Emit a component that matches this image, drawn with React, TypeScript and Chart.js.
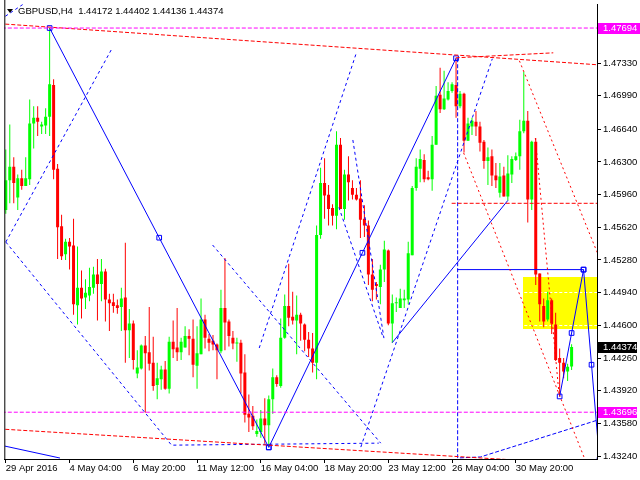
import React, { useEffect, useRef } from 'react';
import { Chart, registerables } from 'chart.js';

Chart.register(...registerables);

// ---------- data ----------
const opens = [
  1.4580, 1.4611, 1.4625, 1.4593, 1.4613, 1.4605, 1.4612, 1.4670, 1.4676, 1.4667,
  1.4668, 1.4677, 1.4710, 1.4623, 1.4563, 1.4534, 1.4547, 1.4543, 1.4481, 1.4499,
  1.4489, 1.4491, 1.4499, 1.4513, 1.4503, 1.4516, 1.4487, 1.4484, 1.4481, 1.4479,
  1.4489, 1.4455, 1.4462, 1.4410, 1.4415, 1.4439, 1.4432, 1.4421, 1.4398, 1.4404,
  1.4414, 1.4394, 1.4443, 1.4437, 1.4432, 1.4437, 1.4449, 1.4446, 1.4418, 1.4430,
  1.4466, 1.4446, 1.4444, 1.4440, 1.4433, 1.4478, 1.4464, 1.4447, 1.4441, 1.4442,
  1.4411, 1.4368, 1.4366, 1.4347, 1.4349, 1.4363, 1.4356, 1.4383, 1.4406, 1.4397,
  1.4447, 1.4480, 1.4469, 1.4465, 1.4471, 1.4461, 1.4445, 1.4436, 1.4421, 1.4554,
  1.4608, 1.4596, 1.4582, 1.4574, 1.4648, 1.4581, 1.4617, 1.4603, 1.4596, 1.4592,
  1.4571, 1.4564, 1.4513, 1.4503, 1.4500, 1.4518, 1.4538, 1.4462, 1.4483, 1.4478,
  1.4486, 1.4487, 1.4533, 1.4603, 1.4623, 1.4632, 1.4614, 1.4612, 1.4648, 1.4700,
  1.4685, 1.4695, 1.4704, 1.4710, 1.4688, 1.4701, 1.4652, 1.4667, 1.4672, 1.4667,
  1.4651, 1.4631, 1.4636, 1.4616, 1.4598, 1.4616, 1.4594, 1.4617, 1.4632, 1.4636,
  1.4662, 1.4673, 1.4591, 1.4651, 1.4514, 1.4480, 1.4466, 1.4486, 1.4461, 1.4426,
  1.4421, 1.4412, 1.44172,
];
const highs = [
  1.4643, 1.4669, 1.4635, 1.4617, 1.4622, 1.4635, 1.4695, 1.4688, 1.4688, 1.4672,
  1.4686, 1.47694, 1.4716, 1.4628, 1.4575, 1.4550, 1.4551, 1.4571, 1.4542, 1.4517,
  1.4508, 1.4520, 1.4521, 1.4529, 1.4529, 1.4519, 1.4493, 1.4493, 1.4487, 1.4499,
  1.4546, 1.4477, 1.4465, 1.4434, 1.4440, 1.4449, 1.4479, 1.4448, 1.4421, 1.4418,
  1.4423, 1.4448, 1.4465, 1.4478, 1.4447, 1.4459, 1.4456, 1.4466, 1.4459, 1.4488,
  1.4471, 1.4451, 1.4450, 1.4441, 1.4497, 1.4530, 1.4466, 1.4454, 1.4447, 1.4445,
  1.4430, 1.4388, 1.4376, 1.4362, 1.4372, 1.4384, 1.4387, 1.4415, 1.4408, 1.4467,
  1.4492, 1.4524, 1.4495, 1.4491, 1.4473, 1.4462, 1.4453, 1.4452, 1.4564, 1.4624,
  1.4634, 1.4606, 1.4586, 1.4662, 1.4655, 1.4622, 1.4636, 1.4611, 1.4603, 1.4611,
  1.4585, 1.4569, 1.4529, 1.4505, 1.4523, 1.4548, 1.4539, 1.4492, 1.4489, 1.4498,
  1.4497, 1.4547, 1.4605, 1.4634, 1.4643, 1.4638, 1.4621, 1.4657, 1.4709, 1.4728,
  1.4725, 1.4713, 1.4713, 1.4738, 1.4704, 1.4702, 1.4676, 1.4676, 1.4683, 1.4672,
  1.4653, 1.4645, 1.4643, 1.4629, 1.4629, 1.4625, 1.4637, 1.4636, 1.4640, 1.4674,
  1.4724, 1.4683, 1.4652, 1.4655, 1.4514, 1.4488, 1.4495, 1.4488, 1.4473, 1.4436,
  1.4426, 1.4420, 1.44402,
];
const lows = [
  1.4576, 1.4587, 1.4587, 1.4580, 1.4601, 1.4605, 1.4606, 1.4644, 1.4657, 1.4659,
  1.4659, 1.4657, 1.4612, 1.4529, 1.4528, 1.4528, 1.4518, 1.4471, 1.4461, 1.4467,
  1.4477, 1.4485, 1.4493, 1.4465, 1.4485, 1.4464, 1.4454, 1.4473, 1.4472, 1.4454,
  1.4421, 1.4426, 1.4414, 1.4405, 1.4414, 1.4369, 1.4413, 1.4392, 1.4383, 1.4393,
  1.4393, 1.4389, 1.4426, 1.4423, 1.4424, 1.4437, 1.4429, 1.4406, 1.4394, 1.4430,
  1.4436, 1.4433, 1.4434, 1.4404, 1.4431, 1.4434, 1.4438, 1.4435, 1.4422, 1.4389,
  1.4359, 1.4349, 1.4351, 1.4344, 1.4343, 1.4337, 1.4333, 1.4368, 1.4396, 1.4395,
  1.4446, 1.4459, 1.4461, 1.4430, 1.4444, 1.4433, 1.4427, 1.4411, 1.4404, 1.4550,
  1.4571, 1.4564, 1.4564, 1.4560, 1.4581, 1.4570, 1.4590, 1.4591, 1.4590, 1.4551,
  1.4552, 1.4502, 1.4485, 1.4487, 1.4482, 1.4505, 1.4460, 1.4442, 1.4474, 1.4478,
  1.4478, 1.4482, 1.4533, 1.4600, 1.4609, 1.4609, 1.4611, 1.4600, 1.4648, 1.4681,
  1.4684, 1.4694, 1.4702, 1.4676, 1.4686, 1.4640, 1.4652, 1.4658, 1.4657, 1.4641,
  1.4623, 1.4606, 1.4605, 1.4603, 1.4593, 1.4594, 1.4590, 1.4608, 1.4631, 1.4622,
  1.4660, 1.4567, 1.4580, 1.4502, 1.4464, 1.4458, 1.4464, 1.4451, 1.4423, 1.4386,
  1.4405, 1.4402, 1.44136,
];
const closes = [
  1.4611, 1.4625, 1.4608, 1.4613, 1.4605, 1.4613, 1.4670, 1.4676, 1.4672, 1.4669,
  1.4677, 1.4711, 1.4622, 1.4562, 1.4532, 1.4547, 1.4542, 1.4482, 1.4499, 1.4488,
  1.4494, 1.4500, 1.4513, 1.4503, 1.4516, 1.4487, 1.4483, 1.4480, 1.4478, 1.4488,
  1.4455, 1.4462, 1.4424, 1.4416, 1.4439, 1.4431, 1.4420, 1.4397, 1.4405, 1.4414,
  1.4394, 1.4443, 1.4435, 1.4432, 1.4443, 1.4449, 1.4446, 1.4419, 1.4431, 1.4466,
  1.4447, 1.4442, 1.4440, 1.4434, 1.4478, 1.4463, 1.4449, 1.4441, 1.4442, 1.4410,
  1.4367, 1.4364, 1.4355, 1.4350, 1.4363, 1.4356, 1.4383, 1.4406, 1.4399, 1.4447,
  1.4480, 1.4468, 1.4465, 1.4471, 1.4462, 1.4445, 1.4436, 1.4421, 1.4554, 1.4608,
  1.4595, 1.4581, 1.4574, 1.4648, 1.4581, 1.4617, 1.4609, 1.4596, 1.4591, 1.4570,
  1.4564, 1.4513, 1.4497, 1.4501, 1.4518, 1.4539, 1.4462, 1.4483, 1.4484, 1.4488,
  1.4488, 1.4535, 1.4603, 1.4625, 1.4633, 1.4612, 1.4612, 1.4648, 1.4699, 1.4685,
  1.4696, 1.4704, 1.4711, 1.4688, 1.4701, 1.4652, 1.4670, 1.4673, 1.4667, 1.4650,
  1.4631, 1.4635, 1.4616, 1.4611, 1.4615, 1.4594, 1.4618, 1.4633, 1.4636, 1.4662,
  1.4673, 1.4591, 1.4651, 1.4513, 1.4482, 1.4464, 1.4486, 1.4462, 1.4424, 1.4421,
  1.4412, 1.4417, 1.44374,
];

const xTickBars = [0, 16, 32, 48, 64, 80, 96, 112, 128];
const xTickLabels = [
  '29 Apr 2016', '4 May 04:00', '6 May 20:00', '11 May 12:00', '16 May 04:00',
  '18 May 20:00', '23 May 12:00', '26 May 04:00', '30 May 20:00',
];
const yTickValues = [
  1.4324, 1.4358, 1.4392, 1.4426, 1.446, 1.4494, 1.4528, 1.4562, 1.4596, 1.463,
  1.4664, 1.4699, 1.4733, 1.4767,
];
const titleText = 'GBPUSD,H4  1.44172 1.44402 1.44136 1.44374';

type Pt = [number, number];
// solid blue wave lines (bar index, price)
const waveDown: Pt[] = [[11, 1.47694], [38.5, 1.45512], [66, 1.4333]];
const waveUp: Pt[] = [[66, 1.4333], [89.5, 1.45355], [113, 1.4738]];
const forecastUp: Pt[] = [[139, 1.4386], [142, 1.4452], [145, 1.4518]];
const forecastDown: Pt[] = [[145, 1.4518], [147, 1.4419], [149, 1.432]];
const targetLevel: Pt[] = [[113.3, 1.4518], [145, 1.4518]];
const supportLine: Pt[] = [[97, 1.4442], [126, 1.459]];
const bottomSolid: Pt[] = [[-0.2, 1.43343], [13.6, 1.43219]];
// dashed blue lines
const dashUpLeft: Pt[] = [[0, 1.45467], [26.6, 1.47477]];
const dashDownLeft: Pt[] = [[0, 1.45467], [41.6, 1.43353], [93.6, 1.43374]];
const dashMid: Pt[] = [[51.9, 1.45436], [94.1, 1.43374]];
const dashRise1: Pt[] = [[63.6, 1.44364], [87.9, 1.47426]];
const dashFall1: Pt[] = [[87.1, 1.46529], [94.9, 1.44467]];
const dashFall2: Pt[] = [[83.6, 1.45828], [94.6, 1.44487]];
const dashRise2: Pt[] = [[89.1, 1.43333], [122.1, 1.47374]];
const dashVertical: Pt[] = [[113.4, 1.4738], [113.4, 1.4322], [119.1, 1.4323], [149, 1.4362]];
const dashCorner: Pt[] = [[-0.1, 1.47817], [5, 1.4796]];
// red lines
const redTop: Pt[] = [[-0.125, 1.47735], [148.4, 1.47312]];
const redTopShort: Pt[] = [[112.9, 1.47384], [137.4, 1.47436]];
const redBottom: Pt[] = [[-0.125, 1.43518], [148.4, 1.43147]];
const redLevel: Pt[] = [[111.9, 1.4587], [149, 1.4587]];
const redChannelLow: Pt[] = [[114.9, 1.46395], [145.1, 1.4323]];
const redChannelHigh: Pt[] = [[128.9, 1.47353], [149, 1.453]];
const redSteep: Pt[] = [[132.9, 1.46549], [138.9, 1.43859]];
// magenta levels
const magentaLevels = [1.47694, 1.43696];
// yellow zone: bar from, bar to, price low, price high
const zoneBars = [129.8, 150];
const zonePrices = [1.4456, 1.451];
// price tags on the right axis
const priceTags: [number, string][] = [
  [1.47694, '#ff00ff'],
  [1.44374, '#000000'],
  [1.43696, '#ff00ff'],
];

const X_MIN = -0.375;
const X_MAX = 148.375;
const Y_MIN = 1.43209;
const Y_MAX = 1.47941;
const FONT = 'Liberation Sans';
const BULL = '#00ff00';
const BEAR = '#ff0000';
const BLUE = '#0000ff';
const RED = '#ff0000';
const MAGENTA = '#ff00ff';

function lineDs(points: Pt[], color: string, dash: number[], markers = false) {
  return {
    type: 'line' as const,
    data: points.map(([x, y]) => ({ x, y })),
    borderColor: color,
    borderWidth: 1,
    borderDash: dash,
    pointRadius: markers ? 3.3 : 0,
    pointHoverRadius: 0,
    pointStyle: 'rect',
    pointBackgroundColor: 'rgba(0,0,0,0)',
    pointBorderColor: color,
    pointBorderWidth: 1,
    fill: false,
    tension: 0,
    order: 0,
  };
}

const decorPlugin = {
  id: 'decor',
  beforeDraw(chart: any) {
    const { ctx, scales, chartArea } = chart;
    const x = scales.x;
    const y = scales.y;
    const x1 = Math.round(x.getPixelForValue(zoneBars[0]));
    const x2 = Math.round(Math.min(x.getPixelForValue(zoneBars[1]), chartArea.right));
    const y1 = Math.round(y.getPixelForValue(zonePrices[1]));
    const y2 = Math.round(y.getPixelForValue(zonePrices[0]));
    ctx.save();
    ctx.fillStyle = '#ffff00';
    ctx.fillRect(x1, y1, x2 - x1, y2 - y1);
    ctx.restore();
  },
  afterDraw(chart: any) {
    const { ctx, scales, chartArea } = chart;
    const y = scales.y;
    ctx.save();
    // left frame line
    ctx.fillStyle = '#000';
    ctx.fillRect(chartArea.left, 0, 1, chartArea.bottom + 1);
    // title
    ctx.fillStyle = '#000';
    ctx.beginPath();
    ctx.moveTo(7, 9);
    ctx.lineTo(13, 9);
    ctx.lineTo(10, 13);
    ctx.closePath();
    ctx.fill();
    ctx.font = `9.5px "${FONT}"`;
    ctx.textBaseline = 'alphabetic';
    ctx.textAlign = 'left';
    ctx.fillText(titleText, 18, 14);
    // price tags
    priceTags.forEach(([v, bg], k) => {
      const py = Math.round(y.getPixelForValue(v));
      ctx.fillStyle = bg;
      ctx.fillRect(chartArea.right + 1, py - 5, k === 0 ? 43 : 39, 11);
      ctx.fillStyle = '#fff';
      ctx.textBaseline = 'middle';
      ctx.fillText(v.toFixed(5), chartArea.right + 6, py + 0.5);
    });
    ctx.restore();
  },
};

export default function App() {
  const ref = useRef<HTMLCanvasElement | null>(null);
  useEffect(() => {
    if (!ref.current) return;
    const idx = opens.map((_, i) => i);
    const colors = idx.map((i) => (closes[i] >= opens[i] ? BULL : BEAR));
    const datasets: any[] = [
      {
        type: 'bar',
        data: idx.map((i) => ({ x: i, y: [lows[i], highs[i]] })),
        backgroundColor: colors,
        barThickness: 1,
        grouped: false,
        borderWidth: 0,
        inflateAmount: 0,
        order: 10,
      },
      {
        type: 'bar',
        data: idx.map((i) => ({ x: i, y: [Math.min(opens[i], closes[i]), Math.max(opens[i], closes[i])] })),
        backgroundColor: colors,
        barThickness: 3,
        grouped: false,
        borderWidth: 0,
        inflateAmount: 0,
        minBarLength: 1,
        order: 9,
      },
      ...magentaLevels.map((v) => lineDs([[-1, v], [150, v]], MAGENTA, [4, 2])),
      lineDs(redTop, RED, [4, 2]),
      lineDs(redTopShort, RED, [4, 2]),
      lineDs(redBottom, RED, [4, 2]),
      lineDs(redLevel, RED, [4, 2]),
      lineDs(redChannelLow, RED, [2, 3]),
      lineDs(redChannelHigh, RED, [2, 3]),
      lineDs(redSteep, RED, [2, 3]),
      lineDs(dashUpLeft, BLUE, [3, 3]),
      lineDs(dashDownLeft, BLUE, [3, 3]),
      lineDs(dashMid, BLUE, [3, 3]),
      lineDs(dashRise1, BLUE, [3, 3]),
      lineDs(dashFall1, BLUE, [3, 3]),
      lineDs(dashFall2, BLUE, [3, 3]),
      lineDs(dashRise2, BLUE, [3, 3]),
      lineDs(dashVertical, BLUE, [4, 2]),
      lineDs(dashCorner, BLUE, [3, 3]),
      lineDs(bottomSolid, BLUE, []),
      lineDs(supportLine, BLUE, []),
      lineDs(targetLevel, BLUE, []),
      lineDs(waveDown, BLUE, [], true),
      lineDs(waveUp, BLUE, [], true),
      lineDs(forecastUp, BLUE, [], true),
      lineDs(forecastDown, BLUE, [], true),
    ];
    const chart = new Chart(ref.current, {
      type: 'bar',
      data: { datasets },
      plugins: [decorPlugin],
      options: {
        animation: false,
        responsive: false,
        devicePixelRatio: 1,
        events: [],
        layout: { padding: { left: 2, top: 0, right: 0, bottom: 0 } },
        plugins: { legend: { display: false }, tooltip: { enabled: false }, title: { display: false } },
        scales: {
          x: {
            type: 'linear',
            min: X_MIN,
            max: X_MAX,
            offset: false,
            bounds: 'data',
            grid: { display: true, drawOnChartArea: false, drawTicks: true, tickLength: 4, tickColor: '#000', offset: false },
            border: { display: true, color: '#000', width: 1 },
            afterBuildTicks: (s: any) => {
              s.ticks = xTickBars.map((v) => ({ value: v }));
            },
            afterFit: (s: any) => {
              s.height = 21;
              s.paddingLeft = 0;
              s.paddingRight = 0;
            },
            ticks: {
              autoSkip: false,
              maxRotation: 0,
              minRotation: 0,
              align: 'start',
              padding: 0,
              color: '#000',
              font: { family: FONT, size: 9.5 },
              callback: (_v: any, i: number) => xTickLabels[i],
            },
          },
          y: {
            type: 'linear',
            position: 'right',
            min: Y_MIN,
            max: Y_MAX,
            bounds: 'data',
            grid: { color: '#ffffff', drawOnChartArea: true, drawTicks: true, tickLength: 4, tickColor: '#000', lineWidth: 1 },
            border: { display: true, color: '#000', width: 1, dash: [3, 2] },
            afterBuildTicks: (s: any) => {
              s.ticks = yTickValues.map((v) => ({ value: v }));
            },
            afterFit: (s: any) => {
              s.width = 43;
              s.paddingTop = 0;
              s.paddingBottom = 0;
            },
            ticks: {
              padding: 2,
              color: '#000',
              font: { family: FONT, size: 9.5 },
              callback: (v: any) => Number(v).toFixed(5),
            },
          },
        },
      } as any,
    });
    return () => chart.destroy();
  }, []);
  return (
    <div style={{ position: 'fixed', left: 0, top: 0, width: 640, height: 480, background: '#fff' }}>
      <canvas ref={ref} width={640} height={480} style={{ display: 'block' }} />
    </div>
  );
}
